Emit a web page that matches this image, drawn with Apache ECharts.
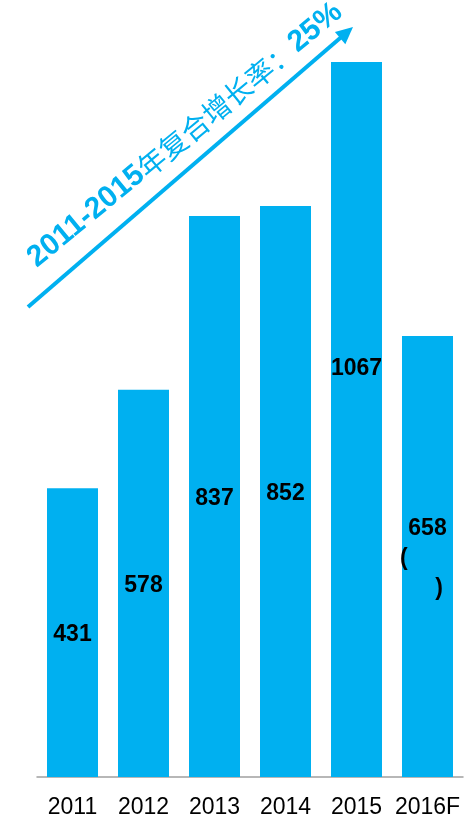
<!DOCTYPE html>
<html><head><meta charset="utf-8">
<script src="https://cdn.jsdelivr.net/npm/echarts@6/dist/echarts.min.js"></script>
<style>html,body{margin:0;padding:0;background:#fff}#c{width:475px;height:820px}</style>
</head><body><div id="c"></div>
<script>
const categories = ['2011', '2012', '2013', '2014', '2015', '2016F'];
const values = [431, 578, 837, 852, 1067, 658];
const valueLabels = ['431', '578', '837', '852', '1067', '658'];
const cagrParts = ['2011-2015', '年复合增长率：', '25%'];

const BLUE = '#00b0f0';
const chart = echarts.init(document.getElementById('c'), null, {renderer: 'canvas'});

const data = values.map((v, i) => {
  const item = {value: v, label: {}};
  if (categories[i] === '2015') item.label.offset = [0, -51];
  if (categories[i] === '2016F') {
    item.label.formatter = valueLabels[i] + '\n{l|(}\n{r|)}';
    item.label.lineHeight = 30;
    item.label.rich = {
      l: {width: 43, padding: [0, 12, 0, 0], align: 'left', fontSize: 23, fontWeight: 'bold', color: '#000', lineHeight: 30, fontFamily: 'Liberation Sans'},
      r: {width: 43, padding: [0, 12, 0, 0], align: 'right', fontSize: 23, fontWeight: 'bold', color: '#000', lineHeight: 30, fontFamily: 'Liberation Sans'}
    };
  }
  return item;
});

// arrow geometry
const tail = [28, 307], tip = [353, 27];
const dx = tip[0] - tail[0], dy = tip[1] - tail[1];
const len = Math.hypot(dx, dy), ux = dx / len, uy = dy / len;
const hl = 17, hw = 8;
const bx = tip[0] - ux * hl, by = tip[1] - uy * hl;
const px = -uy, py = ux;

chart.setOption({
  animation: false,
  grid: {left: 37, right: 12, top: 62, bottom: 43},
  xAxis: {
    type: 'category',
    data: categories,
    axisTick: {show: false},
    axisLine: {lineStyle: {color: '#a0a0a0', width: 1.5}},
    axisLabel: {interval: 0, fontSize: 23, color: '#000', margin: 19, fontFamily: 'Liberation Sans'}
  },
  yAxis: {type: 'value', min: 0, max: 1067, show: false, splitLine: {show: false}},
  series: [{
    type: 'bar',
    data: data,
    barWidth: 51,
    itemStyle: {color: BLUE},
    label: {
      show: true,
      position: 'inside',
      offset: [0, 2],
      formatter: (p) => valueLabels[p.dataIndex],
      fontSize: 23,
      fontWeight: 'bold',
      color: '#000',
      fontFamily: 'Liberation Sans'
    }
  }],
  graphic: [
    {type: 'line', shape: {x1: tail[0], y1: tail[1], x2: bx + ux * 2, y2: by + uy * 2}, style: {stroke: BLUE, lineWidth: 4}},
    {type: 'polygon', shape: {points: [tip, [bx + px * hw, by + py * hw], [bx - px * hw, by - py * hw]]}, style: {fill: BLUE}},
    {
      type: 'text', x: 185, y: 135, rotation: 39.5 * Math.PI / 180,
      style: {
        text: '{a|' + cagrParts[0] + '}{b|' + cagrParts[1] + '}{a|' + cagrParts[2] + '}',
        align: 'center', verticalAlign: 'middle',
        rich: {
          a: {fontSize: 30, fontWeight: 'bold', fill: BLUE, fontFamily: 'Liberation Sans'},
          b: {fontSize: 28, fill: BLUE, fontFamily: 'Noto Sans CJK SC'}
        }
      }
    }
  ]
});
</script>
</body></html>
